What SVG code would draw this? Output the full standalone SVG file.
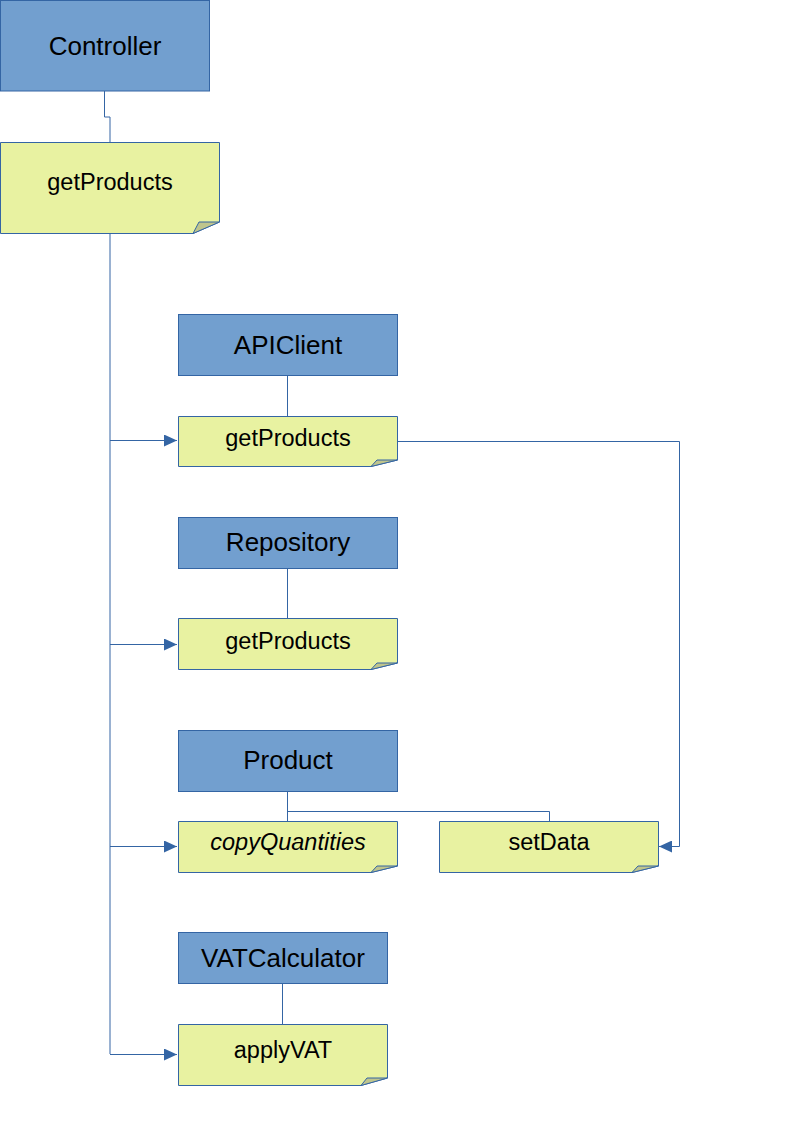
<svg xmlns="http://www.w3.org/2000/svg" width="794" height="1123" viewBox="0 0 794 1123">
<style>
.cls{fill:#729fcf;stroke:#3465a4;stroke-width:1}
.note{fill:#e8f2a1;stroke:#3465a4;stroke-width:1}
.fold{fill:#bfc58d;stroke:#3465a4;stroke-width:1}
.t{font-family:"Liberation Sans",Arial,sans-serif;fill:#000;text-anchor:middle}
.big{font-size:26px}
.sm{font-size:23.5px}
.ln{fill:none;stroke:#3465a4;stroke-width:1}
</style>
<defs>
<marker id="arr" markerWidth="13" markerHeight="12" refX="13" refY="6" orient="auto" markerUnits="userSpaceOnUse">
<path d="M0,0 L13,6 L0,12 Z" fill="#3465a4"/>
</marker>
</defs>
<rect width="794" height="1123" fill="#fff"/>
<g id="connectors">
<path class="ln" d="M104.5,91 V117 H110 V142"/>
<path class="ln" d="M110,233 V1054"/>
<path class="ln" d="M110,440.5 H177" marker-end="url(#arr)"/>
<path class="ln" d="M110,644.5 H177" marker-end="url(#arr)"/>
<path class="ln" d="M110,846.5 H177" marker-end="url(#arr)"/>
<path class="ln" d="M110,1054.5 H177" marker-end="url(#arr)"/>
<path class="ln" d="M287.5,375 V416"/>
<path class="ln" d="M287.5,568 V618"/>
<path class="ln" d="M287.5,791 V821"/>
<path class="ln" d="M287.5,811.5 H549.5 V821"/>
<path class="ln" d="M282.5,983 V1024"/>
<path class="ln" d="M397,441.5 H679.5 V846.5 H659" marker-end="url(#arr)"/>
</g>
<g id="controller">
<rect class="cls" x="0.5" y="0.5" width="209" height="90.5"/>
<text class="t big" x="105" y="55">Controller</text>
</g>
<g id="getProducts-controller">
<path class="note" d="M0.5,142.5 H219.5 V222 L193,233.5 H0.5 Z"/>
<path class="fold" d="M193,233.5 L199,222 L219.5,222 Z"/>
<text class="t sm" x="110" y="190">getProducts</text>
</g>
<g id="apiclient">
<rect class="cls" x="178.5" y="314.5" width="219" height="61"/>
<text class="t big" x="288" y="354">APIClient</text>
</g>
<g id="getProducts-api">
<path class="note" d="M178.5,416.5 H397.5 V460 L371,466.5 H178.5 Z"/>
<path class="fold" d="M371,466.5 L377,460 L397.5,460 Z"/>
<text class="t sm" x="288" y="446">getProducts</text>
</g>
<g id="repository">
<rect class="cls" x="178.5" y="517.5" width="219" height="51"/>
<text class="t big" x="288" y="551">Repository</text>
</g>
<g id="getProducts-repo">
<path class="note" d="M178.5,618.5 H397.5 V663 L371,669.5 H178.5 Z"/>
<path class="fold" d="M371,669.5 L377,663 L397.5,663 Z"/>
<text class="t sm" x="288" y="649">getProducts</text>
</g>
<g id="product">
<rect class="cls" x="178.5" y="730.5" width="219" height="61"/>
<text class="t big" x="288" y="769">Product</text>
</g>
<g id="copyQuantities">
<path class="note" d="M178.5,821.5 H397.5 V866 L371,872.5 H178.5 Z"/>
<path class="fold" d="M371,872.5 L377,866 L397.5,866 Z"/>
<text class="t sm" x="288" y="850" font-style="italic">copyQuantities</text>
</g>
<g id="setData">
<path class="note" d="M439.5,821.5 H658.5 V866 L632,872.5 H439.5 Z"/>
<path class="fold" d="M632,872.5 L638,866 L658.5,866 Z"/>
<text class="t sm" x="549" y="850">setData</text>
</g>
<g id="vatcalculator">
<rect class="cls" x="178.5" y="932.5" width="209" height="51"/>
<text class="t big" x="283" y="967">VATCalculator</text>
</g>
<g id="applyVAT">
<path class="note" d="M178.5,1024.5 H387.5 V1078 L361,1085.5 H178.5 Z"/>
<path class="fold" d="M361,1085.5 L367,1078 L387.5,1078 Z"/>
<text class="t sm" x="283" y="1058">applyVAT</text>
</g>
</svg>
